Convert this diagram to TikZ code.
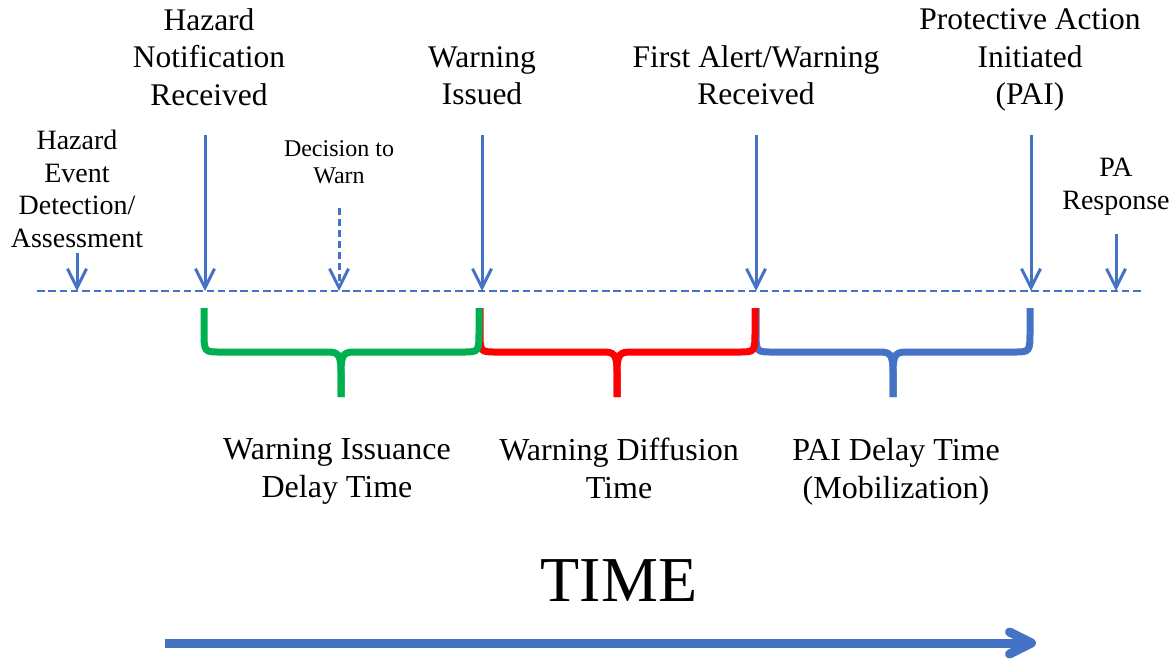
\documentclass[tikz,border=0pt]{standalone}
\usepackage{fontspec}
\setmainfont{Liberation Serif}
\usetikzlibrary{arrows.meta}
\definecolor{myblue}{HTML}{4472C4}
\definecolor{mygreen}{HTML}{00B050}
\definecolor{myred}{HTML}{FF0000}
\newcommand\timebrace[4]{%
  \draw[bracestyle,#4] (#1,308) -- (#1,330) .. controls (#1,352) and (#1,352) .. ({#1+16},352) -- ({#2-14},352) .. controls ({#2-3},352) and (#2,354) .. (#2,372) -- (#2,397);
  \draw[bracestyle,#4] (#3,308) -- (#3,330) .. controls (#3,352) and (#3,352) .. ({#3-16},352) -- ({#2+14},352) .. controls ({#2+3},352) and (#2,354) .. (#2,372) -- (#2,397);
}
\begin{document}
\begin{tikzpicture}[x=1pt,y=-1pt,
  toplbl/.style={align=center, inner sep=0pt, font=\fontsize{31.5}{37.3}\selectfont},
  botlbl/.style={align=center, inner sep=0pt, font=\fontsize{32}{37.7}\selectfont},
  sidelbl/.style={align=center, inner sep=0pt, font=\fontsize{28}{32.7}\selectfont},
  smalllbl/.style={align=center, inner sep=0pt, font=\fontsize{24}{26.5}\selectfont},
  evarrow/.style={draw=myblue, line width=3pt, -{Straight Barb[length=19pt, width=19pt]}},
  dasharrow/.style={evarrow, dash pattern=on 7pt off 4pt},
  axisline/.style={draw=myblue, line width=2.5pt, dash pattern=on 7.5pt off 3.8pt},
  bracestyle/.style={line width=7pt, line cap=butt},
  timearrow/.style={draw=myblue, line width=9pt, -{Straight Barb[length=22pt, width=22pt, round]}}
]
\useasboundingbox (0,0) rectangle (1175,659);

% labels
\node[sidelbl] (hed) at (77,189) {Hazard\\Event\\Detection/\\Assessment};
\node[toplbl] (hnr) at (209,57) {Hazard\\Notification\\Received};
\node[smalllbl] (dtw) at (339,162) {Decision to\\Warn};
\node[toplbl] (wis) at (482,75.5) {Warning\\Issued};
\node[toplbl] (faw) at (756,75.5) {First Alert/Warning\\Received};
\node[toplbl] (pai) at (1030,60) {Protective Action\\Initiated\\(PAI)};
\node[sidelbl] (par) at (1116,186.5) {PA\\Response};

\node[botlbl] (wid) at (337,471.6) {Warning Issuance\\Delay Time};
\node[botlbl] (wdt) at (619,468.3) {Warning Diffusion\\Time};
\node[botlbl] (pdt) at (896,471.6) {PAI Delay Time\\(Mobilization)};
\node[inner sep=0pt, font=\fontsize{64}{70}\selectfont] (time) at (619,580.5) {TIME};

% axis
\coordinate (axL) at (37,291);
\coordinate (axR) at (1144,291);
\draw[axisline] (axL) -- (axR);

% arrow coordinates
\coordinate (a1s) at (77,253);   \coordinate (a1e) at (77,291);
\coordinate (a2s) at (205,135);  \coordinate (a2e) at (205,291);
\coordinate (a3s) at (339,208);  \coordinate (a3e) at (339,291);
\coordinate (a4s) at (482,135);  \coordinate (a4e) at (482,291);
\coordinate (a5s) at (756,135);  \coordinate (a5e) at (756,291);
\coordinate (a6s) at (1031,135); \coordinate (a6e) at (1031,291);
\coordinate (a7s) at (1116,234); \coordinate (a7e) at (1116,291);

\draw[evarrow] (a1s) -- (a1e);
\draw[evarrow] (a2s) -- (a2e);
\draw[dasharrow] (a3s) -- (a3e);
\draw[evarrow] (a4s) -- (a4e);
\draw[evarrow] (a5s) -- (a5e);
\draw[evarrow] (a6s) -- (a6e);
\draw[evarrow] (a7s) -- (a7e);

% braces
\timebrace{756}{893}{1030}{myblue}
\timebrace{480}{617}{755}{myred}
\timebrace{204}{341}{479}{mygreen}

% time arrow
\coordinate (tS) at (165,643);
\coordinate (tE) at (1036,643);
\draw[timearrow] (tS) -- (tE);
\end{tikzpicture}
\end{document}
